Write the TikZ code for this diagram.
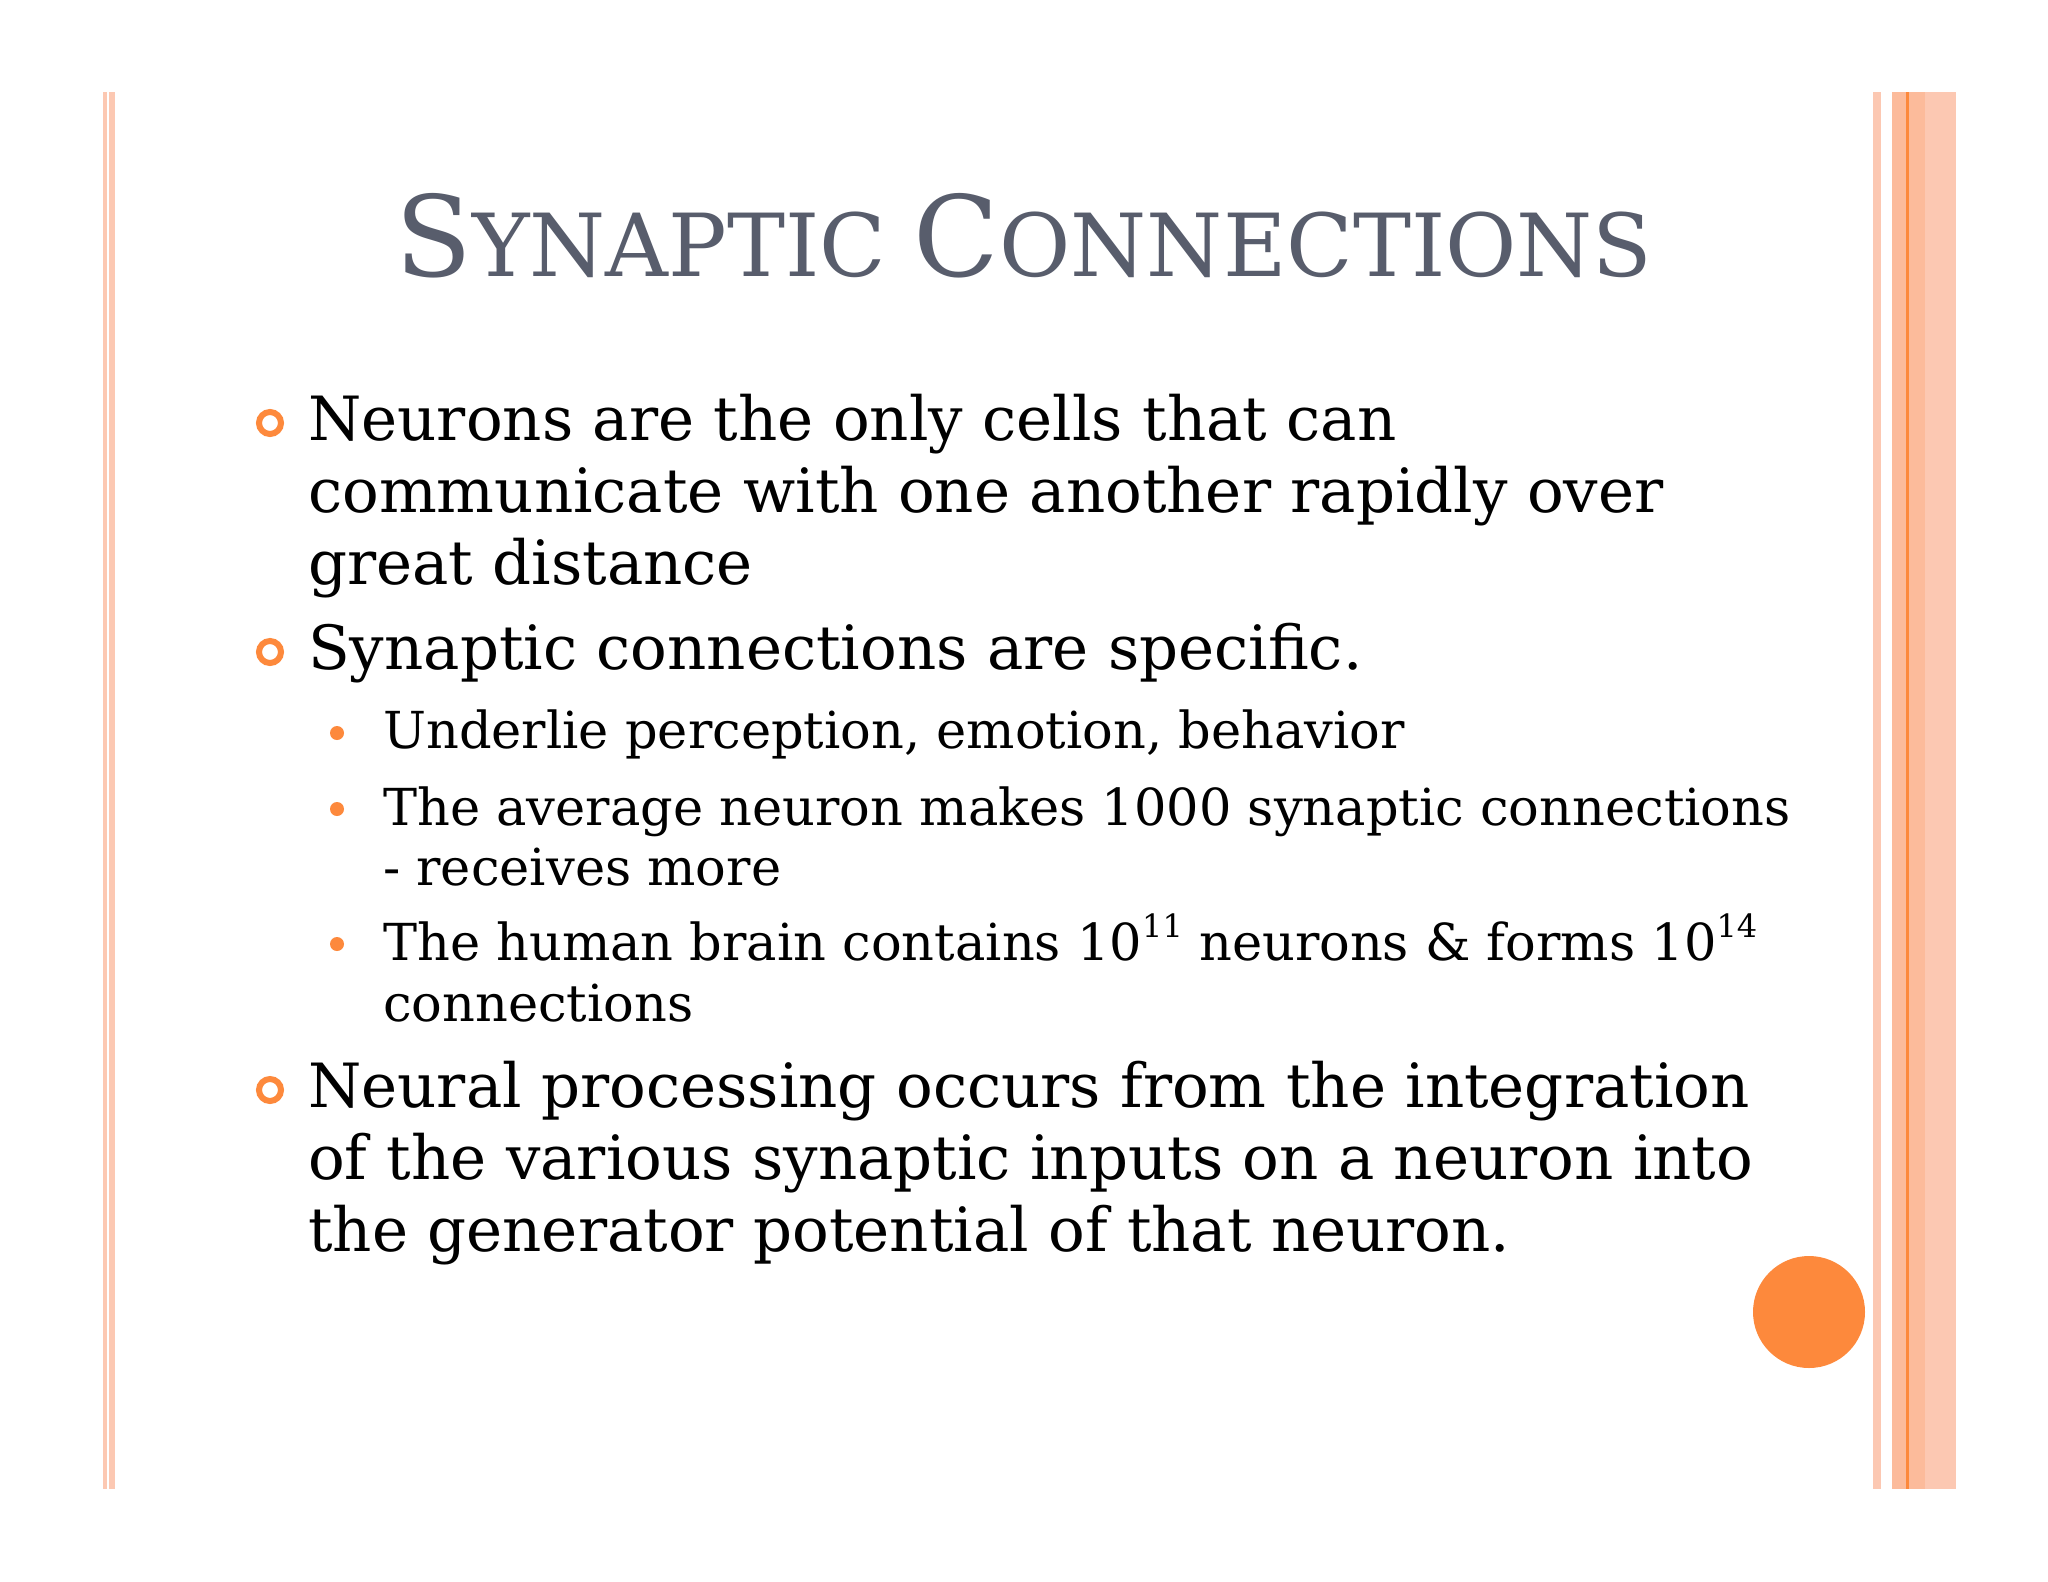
\documentclass[tikz,border=0pt]{standalone}
\usepackage{fontspec}
\setmainfont{DejaVu Serif}
\definecolor{stripe}{RGB}{252,200,178}
\definecolor{orng}{RGB}{253,137,60}
\definecolor{ttl}{RGB}{88,93,108}
\tikzset{x=1pt,y=-1pt,
 body/.style={anchor=base west,inner sep=0pt,font=\fontsize{61}{72}\selectfont},
 sub/.style={anchor=base west,inner sep=0pt,font=\fontsize{51}{60}\selectfont},
 ring/.style={circle,draw=orng,line width=6pt,minimum size=22pt,inner sep=0pt},
 dot/.style={circle,fill=orng,minimum size=14pt,inner sep=0pt}}
\begin{document}
\begin{tikzpicture}
\useasboundingbox (0,0) rectangle (2048,1582);
\fill[white] (0,0) rectangle (2048,1582);
% stripes
\fill[stripe] (103,92) rectangle (107,1489);
\fill[stripe] (109,92) rectangle (115,1489);
\fill[stripe] (1873,92) rectangle (1881,1489);
\fill[stripe] (1892,92) rectangle (1956,1489);
\fill[stripe!80!orng] (1892,92) rectangle (1925,1489);
\fill[orng] (1906,92) rectangle (1909,1489);
\fill[orng] (1809,1312) circle (56);
% title
\node[anchor=base,inner sep=0pt,text=ttl] (title) at (1024,276)
 {\fontsize{112}{114}\selectfont S\fontsize{87}{90}\selectfont YNAPTIC \fontsize{112}{114}\selectfont C\fontsize{87}{90}\selectfont ONNECTIONS};
% bullets
\node[ring] (r1) at (270,423) {};
\node[body] (t1a) at (308,440) {Neurons are the only cells that can};
\node[body] (t1b) at (308,512) {communicate with one another rapidly over};
\node[body] (t1c) at (308,584) {great distance};
\node[ring] (r2) at (270,652) {};
\node[body] (t2) at (308,669) {Synaptic connections are specific.};
\node[dot] (d1) at (337,733) {};
\node[sub] (s1) at (383,748) {Underlie perception, emotion, behavior};
\node[dot] (d2) at (337,809) {};
\node[sub] (s2a) at (383,825) {The average neuron makes 1000 synaptic connections};
\node[sub] (s2b) at (383,885) {- receives more};
\node[dot] (d3) at (337,944) {};
\node[sub] (s3a) at (383,960) {The human brain contains 10\raisebox{0.45em}{\fontsize{32}{33}\selectfont 11} neurons \& forms 10\raisebox{0.45em}{\fontsize{32}{33}\selectfont 14}};
\node[sub] (s3b) at (383,1021) {connections};
\node[ring] (r3) at (270,1090) {};
\node[body] (t3a) at (308,1107) {Neural processing occurs from the integration};
\node[body] (t3b) at (308,1179) {of the various synaptic inputs on a neuron into};
\node[body] (t3c) at (308,1251) {the generator potential of that neuron.};
\end{tikzpicture}
\end{document}
